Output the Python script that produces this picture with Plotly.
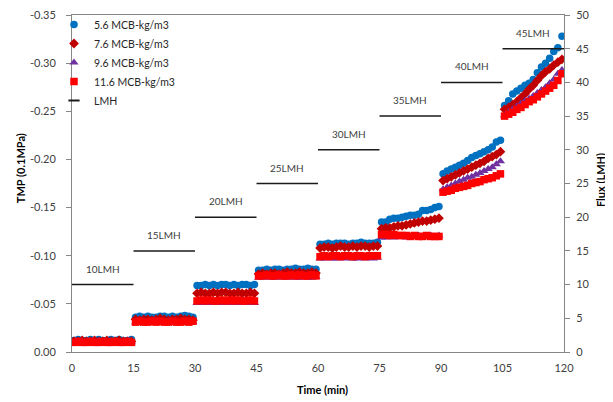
import plotly.graph_objects as go

# ---------------- data ----------------
segment_starts = [0, 15, 30, 45, 60, 75, 90, 105]
lmh_values = [10, 15, 20, 25, 30, 35, 40, 45]
x_ticks = [0, 15, 30, 45, 60, 75, 90, 105, 120]
tmp_ticks = [0.00, -0.05, -0.10, -0.15, -0.20, -0.25, -0.30, -0.35]
flux_ticks = [0, 5, 10, 15, 20, 25, 30, 35, 40, 45, 50]

# sampling times: 15 readings per 15-min step, 1 min apart
time = [s + 0.5 + j for s in segment_starts for j in range(15)]

tmp_56 = [
    -0.012, -0.013, -0.012, -0.012, -0.013, -0.012, -0.013, -0.012, -0.012, -0.013, -0.012, -0.013, -0.012, -0.012, -0.013,
    -0.036, -0.037, -0.036, -0.037, -0.036, -0.036, -0.037, -0.037, -0.036, -0.037, -0.036, -0.037, -0.038, -0.037, -0.036,
    -0.069, -0.069, -0.070, -0.069, -0.070, -0.069, -0.070, -0.070, -0.069, -0.070, -0.069, -0.070, -0.070, -0.069, -0.070,
    -0.085, -0.085, -0.086, -0.085, -0.086, -0.086, -0.085, -0.086, -0.086, -0.087, -0.086, -0.086, -0.087, -0.086, -0.086,
    -0.112, -0.112, -0.113, -0.112, -0.113, -0.113, -0.113, -0.112, -0.113, -0.113, -0.114, -0.113, -0.113, -0.113, -0.114,
    -0.135, -0.135, -0.138, -0.139, -0.139, -0.140, -0.141, -0.142, -0.142, -0.143, -0.147, -0.147, -0.148, -0.150, -0.151,
    -0.185, -0.188, -0.190, -0.192, -0.194, -0.196, -0.199, -0.202, -0.204, -0.206, -0.208, -0.210, -0.213, -0.218, -0.220,
    -0.256, -0.261, -0.268, -0.271, -0.274, -0.277, -0.279, -0.283, -0.290, -0.296, -0.300, -0.305, -0.312, -0.316, -0.328,
]
tmp_76 = [
    -0.011, -0.011, -0.012, -0.011, -0.011, -0.012, -0.011, -0.011, -0.012, -0.011, -0.011, -0.012, -0.011, -0.011, -0.011,
    -0.034, -0.033, -0.034, -0.034, -0.033, -0.034, -0.035, -0.034, -0.033, -0.034, -0.034, -0.035, -0.034, -0.034, -0.033,
    -0.061, -0.062, -0.061, -0.061, -0.062, -0.061, -0.062, -0.062, -0.061, -0.061, -0.062, -0.061, -0.061, -0.062, -0.061,
    -0.081, -0.082, -0.081, -0.082, -0.082, -0.081, -0.082, -0.083, -0.082, -0.082, -0.083, -0.082, -0.082, -0.083, -0.082,
    -0.108, -0.109, -0.109, -0.108, -0.109, -0.110, -0.109, -0.109, -0.110, -0.109, -0.110, -0.110, -0.109, -0.110, -0.110,
    -0.128, -0.129, -0.129, -0.130, -0.131, -0.131, -0.132, -0.133, -0.134, -0.135, -0.136, -0.136, -0.137, -0.138, -0.139,
    -0.178, -0.180, -0.182, -0.184, -0.186, -0.188, -0.190, -0.192, -0.194, -0.196, -0.198, -0.201, -0.203, -0.205, -0.208,
    -0.252, -0.254, -0.257, -0.260, -0.264, -0.268, -0.273, -0.277, -0.282, -0.287, -0.291, -0.294, -0.298, -0.301, -0.304,
]
tmp_96 = [
    -0.010, -0.010, -0.011, -0.010, -0.010, -0.010, -0.011, -0.010, -0.010, -0.011, -0.010, -0.010, -0.010, -0.011, -0.010,
    -0.031, -0.031, -0.032, -0.031, -0.031, -0.032, -0.031, -0.031, -0.032, -0.031, -0.031, -0.031, -0.032, -0.031, -0.031,
    -0.051, -0.051, -0.052, -0.051, -0.051, -0.052, -0.051, -0.051, -0.051, -0.052, -0.051, -0.051, -0.052, -0.051, -0.051,
    -0.077, -0.077, -0.078, -0.077, -0.077, -0.078, -0.077, -0.077, -0.078, -0.077, -0.077, -0.078, -0.077, -0.077, -0.078,
    -0.097, -0.097, -0.098, -0.097, -0.097, -0.098, -0.097, -0.098, -0.097, -0.097, -0.098, -0.097, -0.098, -0.097, -0.098,
    -0.119, -0.119, -0.120, -0.119, -0.120, -0.120, -0.119, -0.120, -0.120, -0.121, -0.120, -0.120, -0.121, -0.120, -0.121,
    -0.169, -0.171, -0.173, -0.175, -0.177, -0.179, -0.181, -0.182, -0.184, -0.186, -0.188, -0.190, -0.192, -0.195, -0.198,
    -0.246, -0.249, -0.252, -0.255, -0.258, -0.261, -0.263, -0.266, -0.269, -0.272, -0.275, -0.279, -0.283, -0.289, -0.293,
]
tmp_116 = [
    -0.010, -0.011, -0.010, -0.010, -0.011, -0.010, -0.010, -0.011, -0.010, -0.010, -0.011, -0.010, -0.010, -0.011, -0.010,
    -0.031, -0.032, -0.031, -0.031, -0.032, -0.031, -0.032, -0.031, -0.031, -0.032, -0.031, -0.031, -0.032, -0.031, -0.032,
    -0.053, -0.054, -0.053, -0.054, -0.053, -0.053, -0.054, -0.053, -0.054, -0.053, -0.054, -0.053, -0.053, -0.054, -0.053,
    -0.079, -0.079, -0.080, -0.079, -0.079, -0.080, -0.079, -0.079, -0.080, -0.079, -0.080, -0.079, -0.079, -0.080, -0.079,
    -0.099, -0.100, -0.099, -0.100, -0.100, -0.099, -0.100, -0.100, -0.099, -0.100, -0.100, -0.099, -0.100, -0.100, -0.100,
    -0.122, -0.122, -0.121, -0.122, -0.121, -0.121, -0.121, -0.120, -0.121, -0.120, -0.120, -0.121, -0.120, -0.120, -0.120,
    -0.166, -0.167, -0.168, -0.170, -0.171, -0.172, -0.173, -0.175, -0.176, -0.177, -0.179, -0.180, -0.181, -0.183, -0.185,
    -0.245, -0.247, -0.249, -0.252, -0.254, -0.257, -0.260, -0.262, -0.265, -0.268, -0.271, -0.274, -0.277, -0.282, -0.289,
]

series_names = ["5.6 MCB-kg/m3", "7.6 MCB-kg/m3", "9.6 MCB-kg/m3", "11.6 MCB-kg/m3"]
series_values = [tmp_56, tmp_76, tmp_96, tmp_116]
series_colors = ["#0070C0", "#C00000", "#7030A0", "#FF0000"]
series_symbols = ["circle", "diamond", "triangle-up", "square"]
series_sizes = [7.5, 7.5, 8, 7.5]

FONT = "Lato, 'Open Sans', sans-serif"
TICK_COLOR = "#404040"
AXIS_COLOR = "#868686"

# the page body has an 8px margin, so the figure is sized to fit the window
FIG_W, FIG_H = 605, 394

fig = go.Figure()

# LMH step lines on the right (flux) axis
lmh_x, lmh_y = [], []
for s, v in zip(segment_starts, lmh_values):
    lmh_x += [s, s + 15, None]
    lmh_y += [v, v, None]

fig.add_trace(go.Scatter(
    x=lmh_x, y=lmh_y, yaxis="y2", mode="lines",
    line=dict(color="#1a1a1a", width=1.5), showlegend=False, hoverinfo="skip",
))

# series drawn in order (last one on top, as in the reference)
for name, vals, col, sym, sz in zip(series_names, series_values, series_colors, series_symbols, series_sizes):
    fig.add_trace(go.Scatter(
        x=time, y=vals, mode="markers", name=name,
        marker=dict(color=col, symbol=sym, size=sz, line=dict(width=0)),
    ))

# legend-only entry for LMH with a short dash symbol
fig.add_trace(go.Scatter(
    x=[None], y=[None], yaxis="y2", mode="markers", name="LMH",
    marker=dict(symbol="line-ew-open", size=8, color="#1a1a1a", line=dict(color="#1a1a1a", width=2)),
))

# LMH labels
for s, v in zip(segment_starts, lmh_values):
    fig.add_annotation(
        x=s + 7.5, y=v, yref="y2", xref="x", text=f"{v}LMH", showarrow=False,
        yshift=16, font=dict(family=FONT, size=10, color=TICK_COLOR),
    )

# axis titles as annotations (positioned like the reference)
title_font = dict(family=FONT, size=11, color="#000000", weight="bold")
fig.add_annotation(text="TMP (0.1MPa)", xref="paper", yref="paper", x=-0.106, y=0.545,
                   xanchor="center", yanchor="middle",
                   textangle=-90, showarrow=False, font=title_font)
fig.add_annotation(text="Flux (LMH)", xref="paper", yref="paper", x=1.073, y=0.51,
                   xanchor="center", yanchor="middle",
                   textangle=-90, showarrow=False, font=title_font)
fig.add_annotation(text="Time (min)", xref="paper", yref="paper", x=0.509, y=-0.11,
                   xanchor="center", yanchor="middle",
                   showarrow=False, font=title_font)

fig.update_layout(
    width=FIG_W, height=FIG_H,
    margin=dict(l=64, r=49, t=7, b=50, autoexpand=False),
    paper_bgcolor="white", plot_bgcolor="white",
    font=dict(family=FONT, size=11, color=TICK_COLOR),
    xaxis=dict(
        range=[0, 120], tickvals=x_ticks, ticks="", showgrid=False, zeroline=False,
        showline=True, linecolor=AXIS_COLOR, linewidth=1, mirror=True,
        ticklabelstandoff=6, ticklabeloverflow="allow",
        tickfont=dict(family=FONT, size=11, color=TICK_COLOR),
    ),
    yaxis=dict(
        range=[0, -0.35], tickvals=tmp_ticks, ticktext=[f"{v:.2f}" for v in tmp_ticks],
        ticks="outside", ticklen=5, tickcolor=AXIS_COLOR, showgrid=False, zeroline=False,
        showline=True, linecolor=AXIS_COLOR, linewidth=1, ticklabelstandoff=8,
        ticklabeloverflow="allow",
        tickfont=dict(family=FONT, size=11, color=TICK_COLOR),
    ),
    yaxis2=dict(
        range=[0, 50], tickvals=flux_ticks, overlaying="y", side="right",
        ticks="outside", ticklen=5, tickcolor=AXIS_COLOR, showgrid=False, zeroline=False,
        showline=True, linecolor=AXIS_COLOR, linewidth=1, ticklabelstandoff=4,
        ticklabeloverflow="allow",
        tickfont=dict(family=FONT, size=11, color=TICK_COLOR),
    ),
    legend=dict(
        xref="container", yref="container", x=46 / FIG_W, y=1 - 2 / FIG_H,
        xanchor="left", yanchor="top", bgcolor="rgba(0,0,0,0)",
        font=dict(family=FONT, size=10.5, color="#262626"), itemwidth=30,
        tracegroupgap=0,
    ),
    showlegend=True,
)

fig.write_html("out.html")
